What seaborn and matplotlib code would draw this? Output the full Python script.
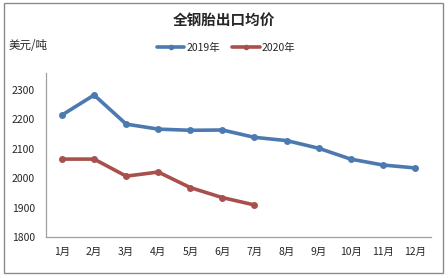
import matplotlib
matplotlib.use("Agg")
import matplotlib.pyplot as plt
import seaborn as sns
import pandas as pd
from matplotlib.patches import Rectangle
from matplotlib.lines import Line2D

months = ["1月", "2月", "3月", "4月", "5月", "6月", "7月", "8月", "9月", "10月", "11月", "12月"]
price_2019 = [2215, 2283, 2184, 2167, 2163, 2164, 2139, 2128, 2102, 2065, 2045, 2035]
price_2020 = [2065, 2065, 2007, 2021, 1968, 1934, 1909]
series_names = ["2019年", "2020年"]
yticks = [1800, 1900, 2000, 2100, 2200, 2300]

sns.set_theme(style="white")
plt.rcParams['font.family'] = ['Noto Sans CJK SC', 'DejaVu Sans']

rows = []
for i, v in enumerate(price_2019):
    rows.append({"pos": i, "val": v, "year": series_names[0]})
for i, v in enumerate(price_2020):
    rows.append({"pos": i, "val": v, "year": series_names[1]})
df = pd.DataFrame(rows)

fig = plt.figure(figsize=(4.48, 2.78), dpi=100)
ax = fig.add_axes([0.1027, 0.1475, 0.859, 0.59])

palette = {series_names[0]: "#4c7ab0", series_names[1]: "#a8504d"}
sns.lineplot(data=df, x="pos", y="val", hue="year", palette=palette, marker="o",
             markersize=5, linewidth=2.6, markeredgewidth=0, ax=ax, legend=False)

ax.set_xlim(-0.5, len(months) - 0.5)
ax.set_ylim(1800, 2358)
ax.set_xticks(range(len(months)))
ax.set_xticklabels(months, fontsize=7.5)
ax.set_yticks(yticks)
ax.set_yticklabels([str(t) for t in yticks], fontsize=7.5)
ax.tick_params(axis='x', length=0, pad=7)
ax.tick_params(axis='y', length=0, pad=8)
ax.set_xlabel("")
ax.set_ylabel("")
for s in ["top", "right"]:
    ax.spines[s].set_visible(False)
for s in ["left", "bottom"]:
    ax.spines[s].set_color("#a0a0a0")
    ax.spines[s].set_linewidth(0.9)

handles = [Line2D([0], [0], color=palette[n], lw=2.6, marker="o", markersize=4, markeredgewidth=0) for n in series_names]
fig.legend(handles, series_names, loc="center", bbox_to_anchor=(0.505, 0.828), ncol=2,
           frameon=False, fontsize=7.5, handlelength=2.6, columnspacing=1.2, handletextpad=0.2)

fig.text(0.5, 0.93, "全钢胎出口均价", ha="center", va="center", fontsize=10.5, fontweight="bold")
fig.text(0.018, 0.835, "美元/吨", ha="left", va="center", fontsize=8.3)

fig.patches.append(Rectangle((0.009, 0.018), 0.98, 0.97, transform=fig.transFigure,
                             fill=False, edgecolor="#8a8a8a", linewidth=1.0))

fig.savefig("out.png", dpi=100)
